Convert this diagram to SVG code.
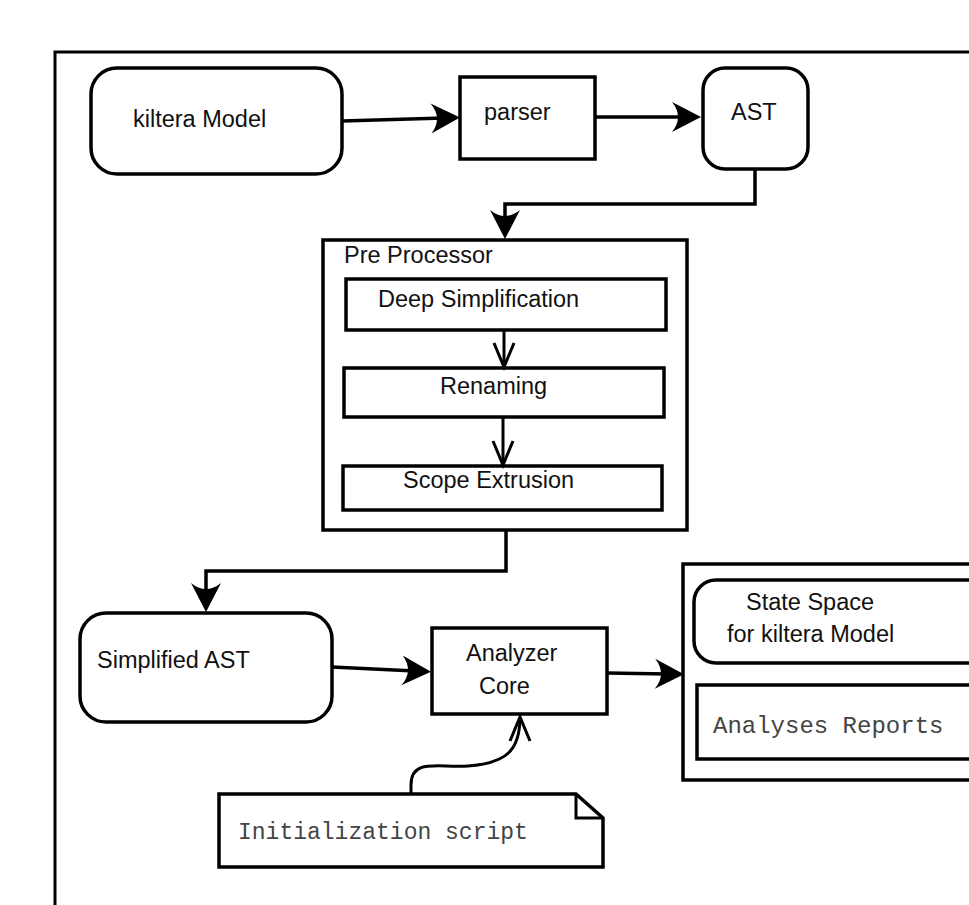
<svg xmlns="http://www.w3.org/2000/svg" width="969" height="905" viewBox="0 0 969 905">
<style>
.bx{fill:#fff;stroke:#000;stroke-width:3.5}
.t{font-family:"Liberation Sans",Arial,sans-serif;font-size:23.5px;fill:#111}
.m{font-family:"Liberation Mono","Courier New",monospace;fill:#444}
.ln{fill:none;stroke:#000;stroke-width:3.5}
.ln2{fill:none;stroke:#000;stroke-width:3}
</style>
<defs>
<marker id="fa" viewBox="-30 -16 32 32" refX="-16" refY="0" markerWidth="32" markerHeight="32" markerUnits="userSpaceOnUse" orient="auto">
<path d="M0,0 L-29,-15 Q-17,0 -29,15 Z" fill="#000"/>
</marker>
<marker id="va" viewBox="-28 -14 32 28" refX="0" refY="0" markerWidth="32" markerHeight="28" markerUnits="userSpaceOnUse" orient="auto">
<path d="M-24,-10 L0,0 L-24,10" fill="none" stroke="#000" stroke-width="3"/>
</marker>
</defs>
<rect x="55" y="52" width="1000" height="1000" fill="#fff" stroke="#000" stroke-width="3"/>
<g id="kiltera-model">
<rect class="bx" x="91" y="68" width="251" height="106" rx="26"/>
<text class="t" x="133" y="127">kiltera Model</text>
</g>
<g id="parser">
<rect class="bx" x="460" y="77" width="135" height="82"/>
<text class="t" x="484" y="120">parser</text>
</g>
<g id="ast">
<rect class="bx" x="703" y="68" width="105" height="101" rx="22"/>
<text class="t" x="731" y="120">AST</text>
</g>
<g id="pre-processor">
<rect class="bx" x="323" y="240" width="364" height="290"/>
<text class="t" x="344" y="263">Pre Processor</text>
</g>
<g id="deep-simplification">
<rect class="bx" x="346" y="279" width="320" height="51"/>
<text class="t" x="378" y="307">Deep Simplification</text>
</g>
<g id="renaming">
<rect class="bx" x="344" y="368" width="320" height="49"/>
<text class="t" x="440" y="394">Renaming</text>
</g>
<g id="scope-extrusion">
<rect class="bx" x="343" y="466" width="319" height="44"/>
<text class="t" x="403" y="488">Scope Extrusion</text>
</g>
<g id="simplified-ast">
<rect class="bx" x="80" y="613" width="252" height="109" rx="26"/>
<text class="t" x="97" y="668">Simplified AST</text>
</g>
<g id="analyzer-core">
<rect class="bx" x="432" y="628" width="175" height="86"/>
<text class="t" x="466" y="661">Analyzer</text>
<text class="t" x="479" y="694">Core</text>
</g>
<g id="output">
<rect class="bx" x="683" y="564" width="400" height="216"/>
</g>
<g id="state-space">
<rect class="bx" x="694" y="580" width="400" height="83" rx="22"/>
<text class="t" x="746" y="610">State Space</text>
<text class="t" x="727" y="642">for kiltera Model</text>
</g>
<g id="analyses-reports">
<rect class="bx" x="697" y="685" width="400" height="74"/>
<text class="m" x="713" y="733" font-size="24">Analyses Reports</text>
</g>
<g id="initialization-script">
<path class="bx" d="M219,794 L576,794 L603,818 L603,867 L219,867 Z"/>
<path class="ln2" d="M576,794 L576,818 L603,818"/>
<text class="m" x="238" y="839" font-size="23">Initialization script</text>
</g>
<g id="connectors">
<path class="ln" d="M342,121 L444,118" marker-end="url(#fa)"/>
<path class="ln" d="M595,117 L685,117" marker-end="url(#fa)"/>
<path class="ln" d="M755,169 L755,204 L505,204 L505,223" marker-end="url(#fa)"/>
<path class="ln2" d="M504,330 L504,367" marker-end="url(#va)"/>
<path class="ln2" d="M503,417 L503,465" marker-end="url(#va)"/>
<path class="ln" d="M506,530 L506,571 L206,571 L206,596" marker-end="url(#fa)"/>
<path class="ln" d="M332,667 L415,671" marker-end="url(#fa)"/>
<path class="ln" d="M607,673 L668,674" marker-end="url(#fa)"/>
<path class="ln2" d="M411,794 L411,785 C411,758 438,768 468,766 C505,763 520,752 520,717" marker-end="url(#va)"/>
</g>
</svg>
